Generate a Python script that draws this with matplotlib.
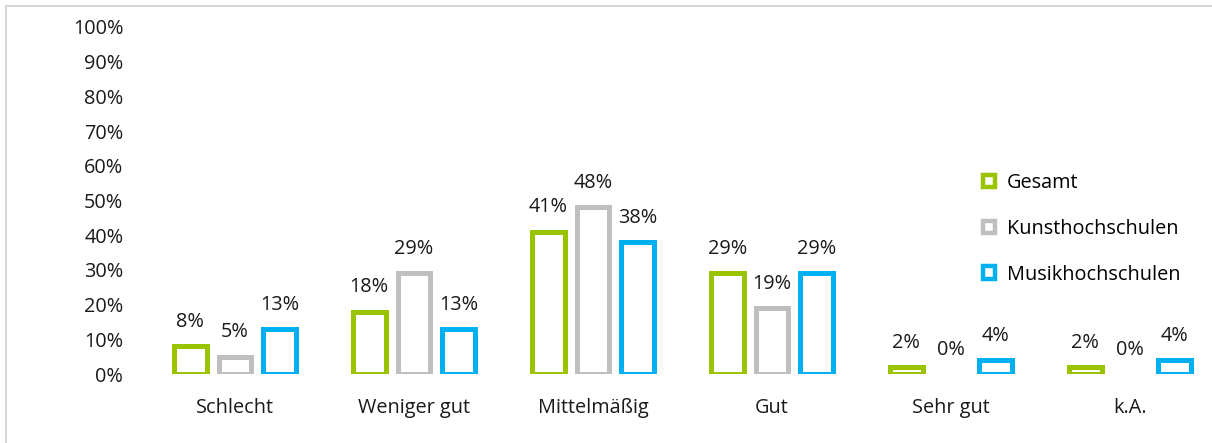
import matplotlib
matplotlib.use("Agg")
import matplotlib.pyplot as plt
import numpy as np
from matplotlib.patches import Rectangle
from matplotlib.lines import Line2D

categories = ["Schlecht", "Weniger gut", "Mittelmäßig", "Gut", "Sehr gut", "k.A."]
series_names = ["Gesamt", "Kunsthochschulen", "Musikhochschulen"]
gesamt = [8, 18, 41, 29, 2, 2]
kunst = [5, 29, 48, 19, 0, 0]
musik = [13, 13, 38, 29, 4, 4]
colors = ["#9BC400", "#BFBFBF", "#00B0F0"]
yticks = [0, 10, 20, 30, 40, 50, 60, 70, 80, 90, 100]

plt.rcParams['font.family'] = ['Open Sans', 'DejaVu Sans']
FS = 14.3

W, H = 1212, 443
fig = plt.figure(figsize=(W / 100, H / 100), dpi=100)
# outer frame
fig.add_artist(Line2D([6 / W, 6 / W], [0, 1 - 6 / H], transform=fig.transFigure, color="#D0D0D0", lw=1.2))
fig.add_artist(Line2D([6 / W, 1], [1 - 6 / H, 1 - 6 / H], transform=fig.transFigure, color="#D0D0D0", lw=1.2))

left = 145.5 / W
bottom = 1 - 374 / H
top = 1 - 27 / H
ax = fig.add_axes([left, bottom, 1 - left, top - bottom])

x = np.arange(len(categories))
spacing = 0.25
width = 0.183
lw_pt = 5 * 72 / 100
for i, (name, vals, c) in enumerate(zip(series_names, [gesamt, kunst, musik], colors)):
    pos = x + (i - 1) * spacing
    lws = [lw_pt if v > 0 else 0 for v in vals]
    ax.bar(pos, vals, width, facecolor="white", edgecolor=c, linewidth=lws, label=name)
    for p, v in zip(pos, vals):
        ax.annotate(f"{v}%", (p, v), xytext=(0, 17.5), textcoords="offset points",
                    ha="center", va="center", fontsize=FS, color="#1a1a1a")

ax.set_ylim(0, 100)
ax.set_xlim(-0.5, 5.5 - (145.5 + 6 * 179 - W) / 179)
ax.set_yticks(yticks)
ax.set_yticklabels([f"{t}%" for t in yticks], fontsize=FS, color="#1a1a1a")
ax.set_xticks(x)
ax.set_xticklabels(categories, fontsize=FS, color="#1a1a1a")
ax.tick_params(axis="both", length=0)
ax.tick_params(axis="y", pad=16)
ax.tick_params(axis="x", pad=17.5)
for s in ax.spines.values():
    s.set_visible(False)

handles = [Rectangle((0, 0), 1, 1, facecolor="white", edgecolor=c, linewidth=3.2) for c in colors]
leg = ax.legend(handles, series_names, loc="upper left", bbox_to_anchor=(983 / W, 1 - 173 / H),
                bbox_transform=fig.transFigure, frameon=False, fontsize=FS,
                handlelength=0.6, handleheight=0.6, handletextpad=0.6,
                labelspacing=1.3, borderpad=0, borderaxespad=0)

fig.savefig("out.png", dpi=100)
